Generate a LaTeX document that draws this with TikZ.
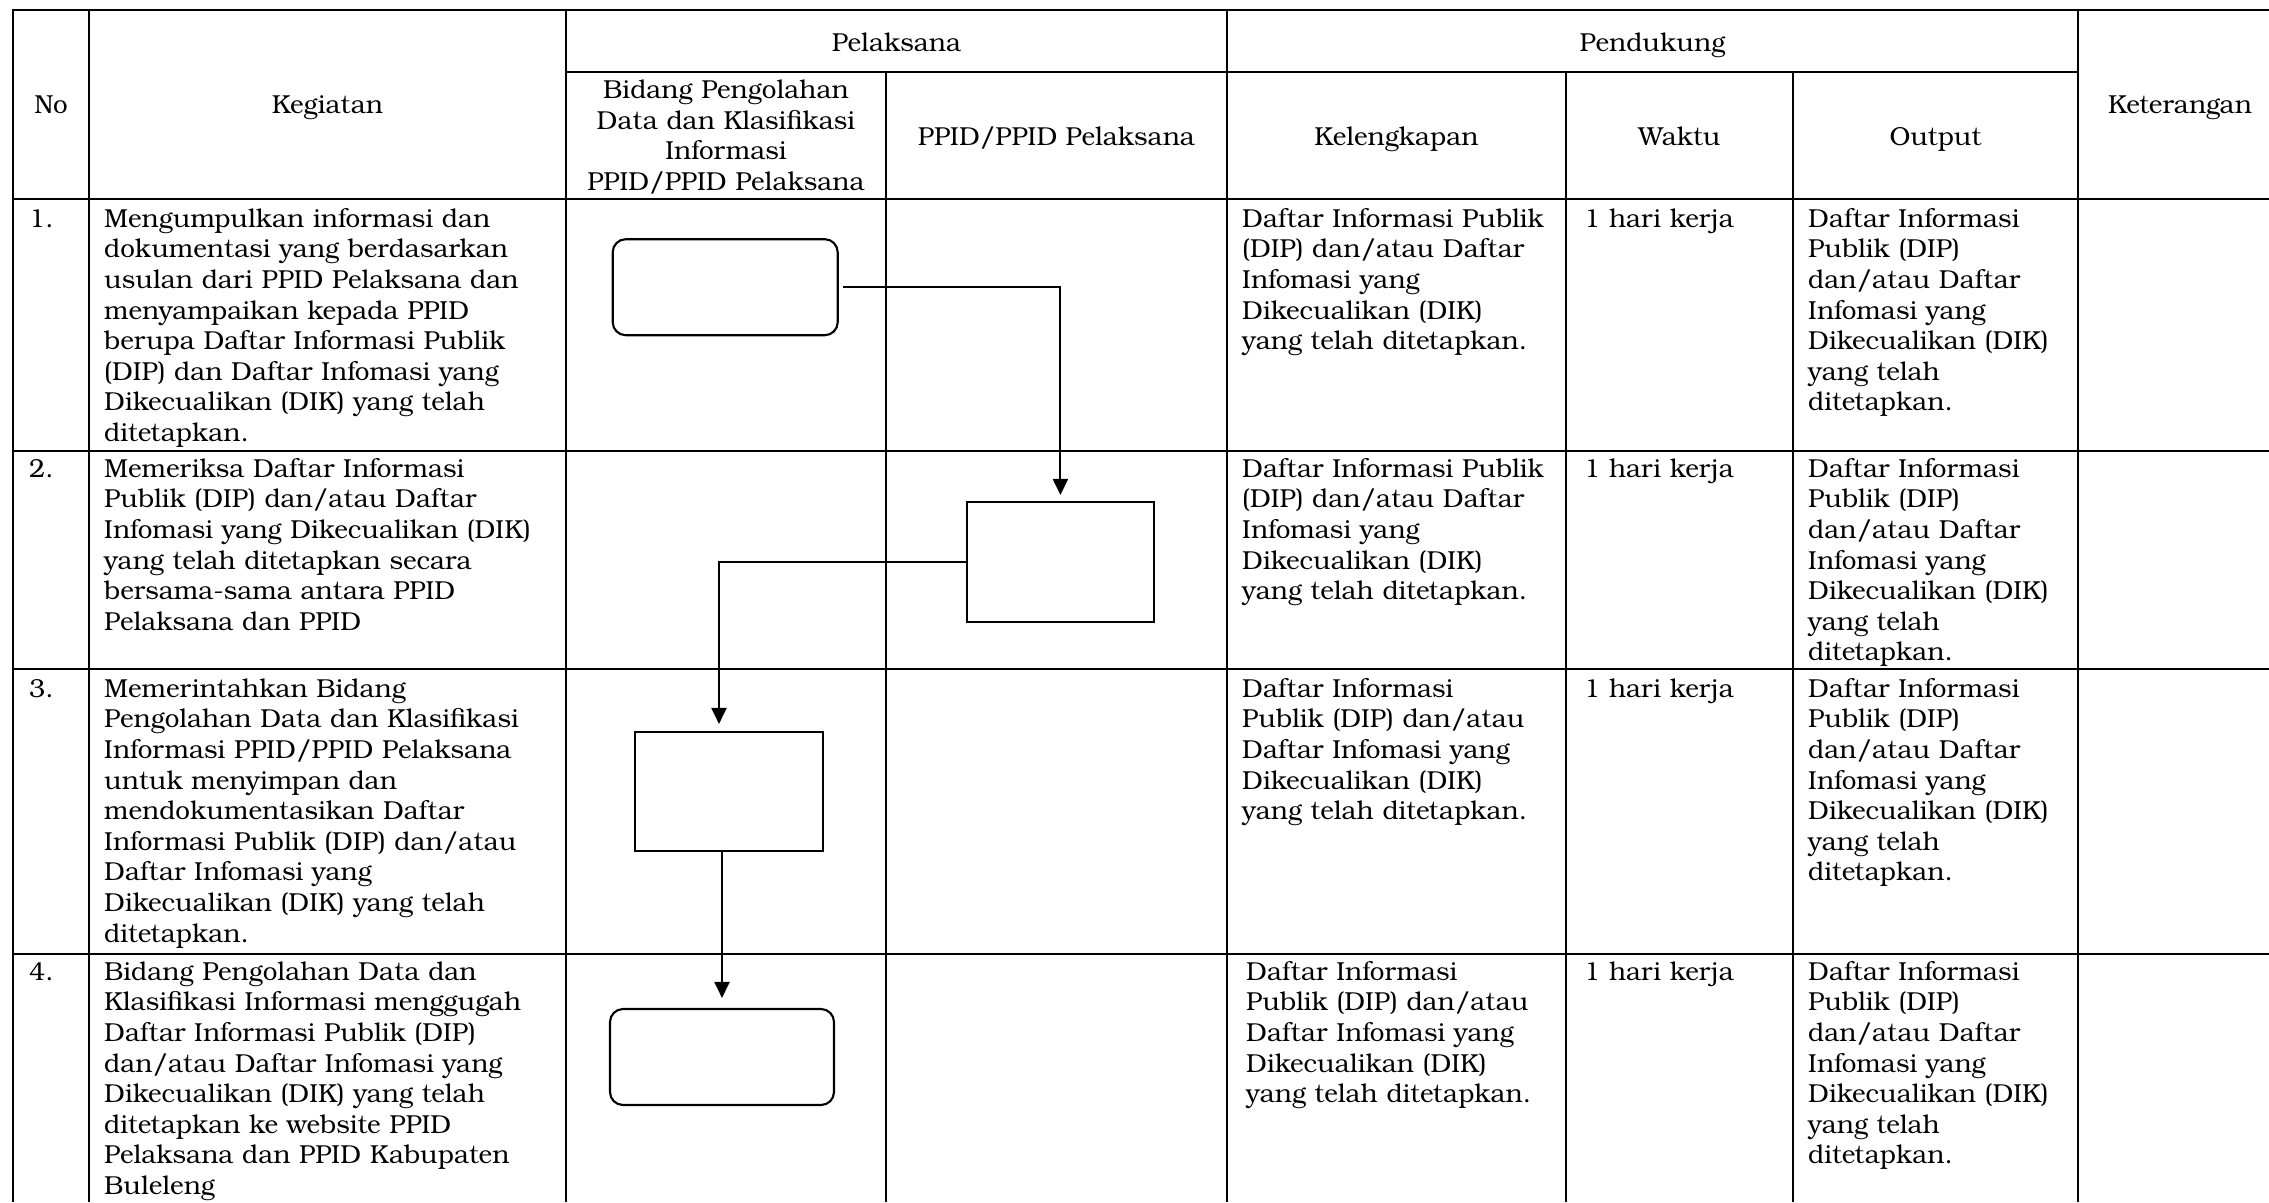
\documentclass[tikz,border=0pt]{standalone}
\usepackage{fontspec}
\setmainfont{TeX Gyre Bonum}
\usetikzlibrary{arrows.meta}
\newcommand\cellfont{\fontsize{26pt}{30.6pt}\selectfont}
\newcommand\txtKelA{Daftar Informasi Publik\\(DIP) dan/atau Daftar\\Infomasi yang\\Dikecualikan (DIK)\\yang telah ditetapkan.}
\newcommand\txtKelB{Daftar Informasi\\Publik (DIP) dan/atau\\Daftar Infomasi yang\\Dikecualikan (DIK)\\yang telah ditetapkan.}
\newcommand\txtOut{Daftar Informasi\\Publik (DIP)\\dan/atau Daftar\\Infomasi yang\\Dikecualikan (DIK)\\yang telah\\ditetapkan.}
\begin{document}
\begin{tikzpicture}[x=1pt,y=-1pt,
  every node/.append style={font=\cellfont},
  hl/.style={line width=2.2pt},
  vl/.style={line width=1.3pt},
  hd/.style={anchor=base, inner sep=0pt},
  hdm/.style={anchor=north, inner sep=0pt, align=center, text width=330pt, execute at begin node=\strut},
  cell/.style={anchor=north west, inner sep=0pt, align=left, text width=520pt, execute at begin node=\strut},
  rbox/.style={draw, line width=2.1pt, rounded corners=13pt, minimum width=225pt, minimum height=96pt, inner sep=0pt},
  pbox/.style={draw, line width=2.1pt, minimum width=188pt, minimum height=120pt, inner sep=0pt},
  flow/.style={line width=2pt, -{Triangle[length=16pt,width=15pt]}}]
\useasboundingbox (0,0) rectangle (2269,1202);
% table rules
\draw[hl] (12,10) -- (2269,10);
\draw[hl] (566,72) -- (2078,72);
\draw[hl] (12,199) -- (2269,199);
\draw[hl] (12,451) -- (2269,451);
\draw[hl] (12,669) -- (2269,669);
\draw[hl] (12,954) -- (2269,954);
\draw[line width=2.2pt] (13,9) -- (13,1202);
\draw[vl] (89,10) -- (89,1202);
\draw[vl] (566,10) -- (566,1202);
\draw[vl] (886,72) -- (886,1202);
\draw[vl] (1227,10) -- (1227,1202);
\draw[vl] (1566,72) -- (1566,1202);
\draw[vl] (1793,72) -- (1793,1202);
\draw[vl] (2078,10) -- (2078,1202);
% header
\node[hd] (hno) at (51,113) {No};
\node[hd] (hkeg) at (327.5,113) {Kegiatan};
\node[hd] (hpel) at (896.5,51.5) {Pelaksana};
\node[hd] (hpen) at (1652.5,51.5) {Pendukung};
\node[hd] (hket) at (2180,113) {Keterangan};
\node[hdm] (hbid) at (726,77) {Bidang Pengolahan\\Data dan Klasifikasi\\Informasi\\PPID/PPID Pelaksana};
\node[hd] (hppid) at (1056.5,145) {PPID/PPID Pelaksana};
\node[hd] (hkel) at (1396.5,145) {Kelengkapan};
\node[hd] (hwak) at (1679.5,145) {Waktu};
\node[hd] (hout) at (1935.5,145) {Output};
% row 1
\node[cell] (n1) at (29,205.6) {1.};
\node[cell] (k1) at (104,205.6) {Mengumpulkan informasi dan\\dokumentasi yang berdasarkan\\usulan dari PPID Pelaksana dan\\menyampaikan kepada PPID\\berupa Daftar Informasi Publik\\(DIP) dan Daftar Infomasi yang\\Dikecualikan (DIK) yang telah\\ditetapkan.};
\node[cell] (l1) at (1242,205.6) {\txtKelA};
\node[cell] (w1) at (1584,205.6) {1 hari kerja};
\node[cell] (o1) at (1808,205.6) {\txtOut};
% row 2
\node[cell] (n2) at (29,455.6) {2.};
\node[cell] (k2) at (104,455.6) {Memeriksa Daftar Informasi\\Publik (DIP) dan/atau Daftar\\Infomasi yang Dikecualikan (DIK)\\yang telah ditetapkan secara\\bersama-sama antara PPID\\Pelaksana dan PPID};
\node[cell] (l2) at (1242,455.6) {\txtKelA};
\node[cell] (w2) at (1584,455.6) {1 hari kerja};
\node[cell] (o2) at (1808,455.6) {\txtOut};
% row 3
\node[cell] (n3) at (29,675.6) {3.};
\node[cell] (k3) at (104,675.6) {Memerintahkan Bidang\\Pengolahan Data dan Klasifikasi\\Informasi PPID/PPID Pelaksana\\untuk menyimpan dan\\mendokumentasikan Daftar\\Informasi Publik (DIP) dan/atau\\Daftar Infomasi yang\\Dikecualikan (DIK) yang telah\\ditetapkan.};
\node[cell] (l3) at (1242,675.6) {\txtKelB};
\node[cell] (w3) at (1584,675.6) {1 hari kerja};
\node[cell] (o3) at (1808,675.6) {\txtOut};
% row 4
\node[cell] (n4) at (29,958.6) {4.};
\node[cell] (k4) at (104,958.6) {Bidang Pengolahan Data dan\\Klasifikasi Informasi menggugah\\Daftar Informasi Publik (DIP)\\dan/atau Daftar Infomasi yang\\Dikecualikan (DIK) yang telah\\ditetapkan ke website PPID\\Pelaksana dan PPID Kabupaten\\Buleleng};
\node[cell] (l4) at (1246,958.6) {\txtKelB};
\node[cell] (w4) at (1584,958.6) {1 hari kerja};
\node[cell] (o4) at (1808,958.6) {\txtOut};
% flow shapes
\node[rbox] (b1) at (725.2,287.2) {};
\node[pbox, minimum width=187pt] (b2) at (1060.4,562) {};
\node[pbox, minimum height=119pt] (b3) at (729,791.5) {};
\node[rbox, minimum width=224pt] (b4) at (722,1057) {};
\coordinate (c2) at (719,562);
\draw[flow, shorten <=4pt, shorten >=6pt] (b1.east) -| (b2.north);
\draw[flow, shorten >=7pt] (b2.west) -- (c2) -- (c2 |- b3.north);
\draw[flow, shorten >=10pt] (b3.south -| b4.north) -- (b4.north);
\end{tikzpicture}
\end{document}
